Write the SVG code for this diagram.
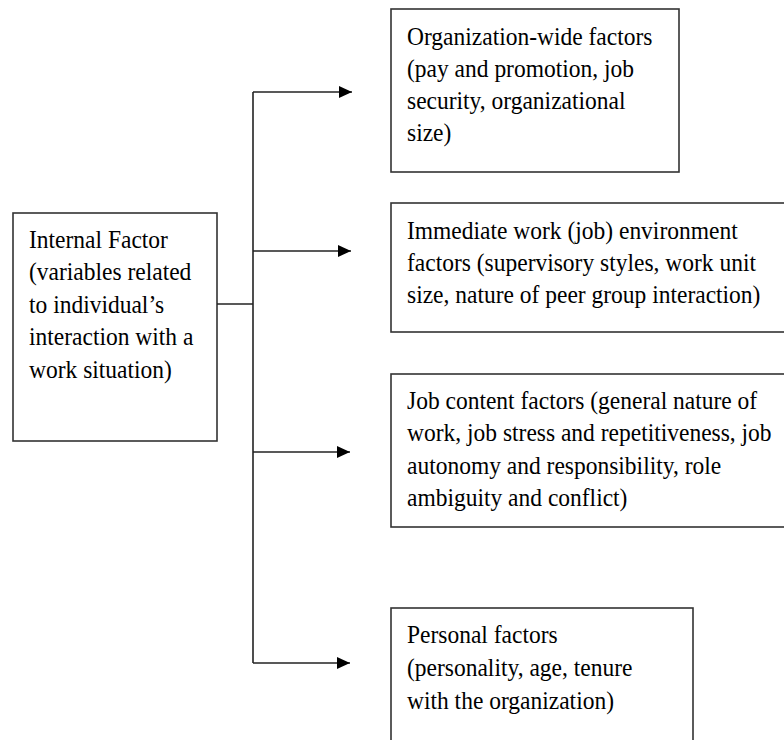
<svg xmlns="http://www.w3.org/2000/svg" width="784" height="740" viewBox="0 0 784 740">
<style>
.box{fill:#fff;stroke:#333;stroke-width:1.6}
.t{font-family:"Liberation Serif","Times New Roman",serif;font-size:23.5px;fill:#000}
.c{fill:none;stroke:#222;stroke-width:1.6}
</style>
<defs>
<marker id="ah" markerWidth="13" markerHeight="12" refX="13" refY="6" orient="auto" markerUnits="userSpaceOnUse">
<path d="M0,0 L13,6 L0,12 Z" fill="#000"/>
</marker>
</defs>
<rect width="784" height="740" fill="#fff"/>
<g id="internal">
<rect class="box" x="13" y="213" width="204" height="228"/>
<text class="t" transform="translate(29,248) scale(1,1.1)"><tspan x="0" y="0">Internal Factor</tspan><tspan x="0" dy="29.5">(variables related</tspan><tspan x="0" dy="29.5">to individual’s</tspan><tspan x="0" dy="29.5">interaction with a</tspan><tspan x="0" dy="29.5">work situation)</tspan></text>
</g>
<g id="org">
<rect class="box" x="391" y="9" width="288" height="163"/>
<text class="t" transform="translate(407,45) scale(1,1.1)"><tspan x="0" y="0">Organization-wide factors</tspan><tspan x="0" dy="29">(pay and promotion, job</tspan><tspan x="0" dy="29">security, organizational</tspan><tspan x="0" dy="29">size)</tspan></text>
</g>
<g id="immediate">
<rect class="box" x="391" y="203" width="400" height="129"/>
<text class="t" transform="translate(407,239) scale(1,1.1)"><tspan x="0" y="0">Immediate work (job) environment</tspan><tspan x="0" dy="29.3">factors (supervisory  styles, work unit</tspan><tspan x="0" dy="29.3">size, nature of peer group interaction)</tspan></text>
</g>
<g id="jobcontent">
<rect class="box" x="391" y="374" width="400" height="153"/>
<text class="t" transform="translate(407,409) scale(1,1.1)"><tspan x="0" y="0">Job content factors (general nature of</tspan><tspan x="0" dy="29.5">work, job stress and repetitiveness, job</tspan><tspan x="0" dy="29.5">autonomy and responsibility,  role</tspan><tspan x="0" dy="29.5">ambiguity and conflict)</tspan></text>
</g>
<g id="personal">
<rect class="box" x="391" y="608" width="302" height="150"/>
<text class="t" transform="translate(407,643) scale(1,1.1)"><tspan x="0" y="0">Personal factors</tspan><tspan x="0" dy="30">(personality, age, tenure</tspan><tspan x="0" dy="30">with the organization)</tspan></text>
</g>
<g id="connectors">
<line class="c" x1="217" y1="304" x2="253" y2="304"/>
<line class="c" x1="253" y1="92" x2="253" y2="663"/>
<line class="c" x1="253" y1="92" x2="352" y2="92" marker-end="url(#ah)"/>
<line class="c" x1="253" y1="251" x2="351" y2="251" marker-end="url(#ah)"/>
<line class="c" x1="253" y1="452" x2="350" y2="452" marker-end="url(#ah)"/>
<line class="c" x1="253" y1="663" x2="350" y2="663" marker-end="url(#ah)"/>
</g>
</svg>
